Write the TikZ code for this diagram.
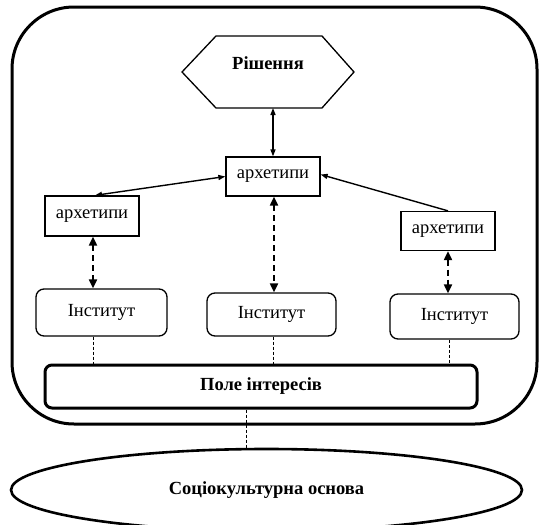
\documentclass[tikz,border=0pt]{standalone}
\usepackage{fontspec}
\setmainfont{Liberation Serif}
\usetikzlibrary{arrows.meta,shapes.geometric}
\tikzset{
  txt/.style={font=\fontsize{18.5}{22}\selectfont},
  btxt/.style={font=\fontsize{18.5}{22}\selectfont\bfseries},
  arcbox/.style={txt,draw,line width=1.3pt,inner sep=0pt,minimum width=94pt},
  instbox/.style={txt,draw,line width=1.3pt,rounded corners=8pt,inner sep=0pt},
  solidarr/.style={line width=1.4pt,{Triangle[length=7pt,width=5pt]}-{Triangle[length=7pt,width=5pt]}},
  onearr/.style={line width=1.4pt,-{Triangle[length=7pt,width=5pt]}},
  dasharr/.style={line width=2pt,dash pattern=on 6pt off 4pt,{Triangle[length=9pt,width=8pt]}-{Triangle[length=9pt,width=8pt]}},
  dotline/.style={line width=1pt,dash pattern=on 3pt off 2pt},
}
\begin{document}
\begin{tikzpicture}[x=1pt,y=-1pt]
\useasboundingbox (0,0) rectangle (539,525);
\clip (0,0) rectangle (539,525);
% outer frame
\draw[line width=3pt,rounded corners=62pt] (12,7) rectangle (537,424);
% hexagon
\node[btxt] (hex) at (268,63) {Рішення};
\draw[line width=1.3pt] (182,72) -- (216,36) -- (322,36) -- (354,72) -- (322,108) -- (216,108) -- cycle;
\coordinate (hexb) at (273,108);
% archetypes
\node[arcbox,minimum height=39pt] (arcC) at (273,176.5) {архетипи};
\node[arcbox,minimum height=40pt] (arcL) at (92,216) {архетипи};
\node[arcbox,minimum height=39pt] (arcR) at (448,231) {архетипи};
% institutes
\node[instbox,minimum width=131pt,minimum height=47pt] (instL) at (101.5,312.5) {Інститут};
\node[instbox,minimum width=129pt,minimum height=43pt] (instM) at (271.5,314.5) {Інститут};
\node[instbox,minimum width=129pt,minimum height=45pt] (instR) at (454.5,316.5) {Інститут};
% field
\node[btxt,draw,line width=3pt,rounded corners=7pt,inner sep=0pt,minimum width=432pt,minimum height=43pt] (pole) at (261,386.5) {Поле інтересів};
% ellipse
\node[btxt,draw,ellipse,line width=2.6pt,inner sep=0pt,minimum width=511pt,minimum height=82pt] (ell) at (266.5,490) {Соціокультурна основа};
% connectors
\draw[solidarr] (hexb) -- (arcC.north);
\draw[solidarr] (arcC.west) -- ([xshift=3pt]arcL.north);
\draw[onearr] (arcR.north) -- ([yshift=2pt]arcC.east);
\draw[dasharr] ([xshift=1pt]arcL.south) -- ([xshift=1pt]arcL.south |- instL.north);
\draw[dasharr] ([xshift=1pt]arcC.south) -- ([xshift=1pt]arcC.south |- instM.north);
\draw[dasharr] (arcR.south) -- (arcR.south |- instR.north);
\draw[dotline] ([xshift=1pt]arcL.south |- instL.south) -- ([xshift=1pt]arcL.south |- pole.north);
\draw[dotline] ([xshift=1.5pt]instM.south) -- ([xshift=1.5pt]instM.south |- pole.north);
\draw[dotline] ([xshift=1pt]arcR.south |- instR.south) -- ([xshift=1pt]arcR.south |- pole.north);
\draw[dotline] ([xshift=-15pt]pole.south) -- ([xshift=-15pt]pole.south |- ell.north);
\end{tikzpicture}
\end{document}
